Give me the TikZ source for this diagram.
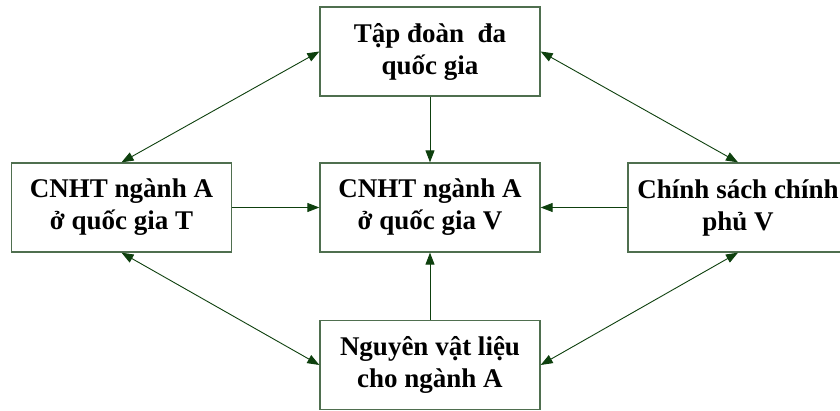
\documentclass[tikz,border=0pt]{standalone}
\usepackage{fontspec}
\setmainfont{Liberation Serif}
\usetikzlibrary{arrows.meta}
\definecolor{boxline}{HTML}{4F6F4F}
\definecolor{arrowline}{HTML}{0E400E}
\begin{document}
\begin{tikzpicture}[x=1pt,y=-1pt,
  block/.style={draw=boxline, line width=1.3pt, fill=white,
    minimum width=220pt, minimum height=89pt, inner sep=0pt,
    align=center, font=\fontsize{27}{32}\selectfont\bfseries},
  link/.style={draw=arrowline, line width=0.9pt,
    -{Triangle[length=12pt,width=9pt]}},
  twoway/.style={draw=arrowline, line width=0.9pt,
    {Triangle[length=12pt,width=9pt]}-{Triangle[length=12pt,width=9pt]}}]
  \useasboundingbox (0,0) rectangle (840,411);
  \clip (0,0) rectangle (840,411);
  \node[block] (corp)   at (430,51.5)  {Tập đoàn~ đa\\quốc gia};
  \node[block] (midV)   at (430,207.5) {CNHT ngành A\\ở quốc gia V};
  \node[block] (leftT)  at (121.5,207.5) {CNHT ngành A\\ở quốc gia T};
  \node[block] (policy) at (738,207.5) {Chính sách chính\\phủ V};
  \node[block] (mat)    at (430,365)   {Nguyên vật liệu\\cho ngành A};
  % one-way flows into the central box
  \draw[link] (corp.south) -- (midV.north);
  \draw[link] (mat.north) -- (midV.south);
  \draw[link] (leftT.east) -- (midV.west);
  \draw[link] (policy.west) -- (midV.east);
  % two-way links around the outside
  \draw[twoway] (leftT.north) -- (corp.west);
  \draw[twoway] (policy.north) -- (corp.east);
  \draw[twoway] (leftT.south) -- (mat.west);
  \draw[twoway] (policy.south) -- (mat.east);
\end{tikzpicture}
\end{document}
